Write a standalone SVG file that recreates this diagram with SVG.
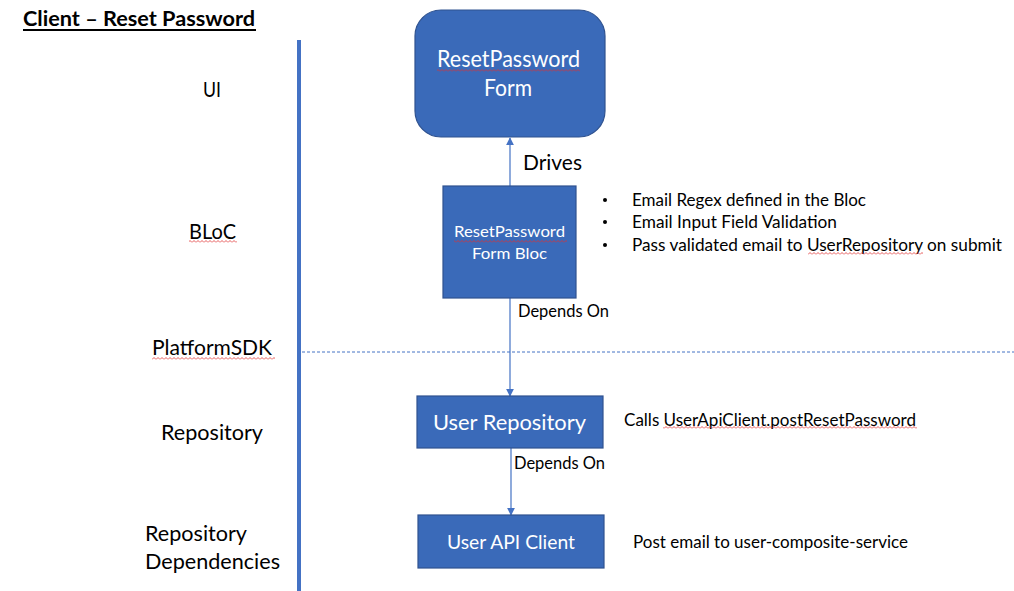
<svg xmlns="http://www.w3.org/2000/svg" width="1014" height="591" viewBox="0 0 1014 591">
<defs>
<style>
text{font-family:Lato,"Open Sans","Noto Sans",sans-serif;}
.lbl{fill:#000;font-size:21px;}
.note{fill:#000;font-size:16.5px;}
.wt{fill:#fff;text-anchor:middle;}
.box{fill:#3A6AB9;stroke:#2F528F;stroke-width:1.2;}
.conn{stroke:#4472C4;stroke-width:1.2;fill:none;}
</style>
<marker id="arr" viewBox="0 0 10 10" refX="9" refY="5" markerWidth="8" markerHeight="8" markerUnits="userSpaceOnUse" orient="auto">
<path d="M0,0 L10,5 L0,10 z" fill="#4472C4"/>
</marker>
<pattern id="sq" x="0" y="0" width="4" height="3" patternUnits="userSpaceOnUse">
<path d="M0,2.5 L2,0.5 L4,2.5" fill="none" stroke="#E03030" stroke-width="0.8"/>
</pattern>
</defs>
<rect width="1014" height="591" fill="#fff"/>

<g id="title">
<text x="23" y="26" textLength="232" lengthAdjust="spacingAndGlyphs" style="font-size:21px;font-weight:bold;fill:#000">Client – Reset Password</text>
<rect x="23" y="29" width="233" height="2" fill="#000"/>
</g>

<g id="layers">
<rect x="297" y="40" width="4" height="551" fill="#4472C4"/>
<line x1="302" y1="352" x2="1014" y2="352" stroke="#4472C4" stroke-width="1" stroke-dasharray="3,2"/>
<text class="lbl" x="212" y="97" text-anchor="middle" textLength="18" lengthAdjust="spacingAndGlyphs">UI</text>
<text class="lbl" x="212.5" y="239" text-anchor="middle" textLength="47" lengthAdjust="spacingAndGlyphs">BLoC</text>
<rect x="189" y="240" width="48" height="3" fill="url(#sq)"/>
<text class="lbl" x="212" y="355" text-anchor="middle" textLength="120" lengthAdjust="spacingAndGlyphs">PlatformSDK</text>
<rect x="152" y="357" width="123" height="3" fill="url(#sq)"/>
<text class="lbl" x="212" y="440" text-anchor="middle" textLength="102" lengthAdjust="spacingAndGlyphs">Repository</text>
<text class="lbl" x="145" y="541" textLength="102" lengthAdjust="spacingAndGlyphs">Repository</text>
<text class="lbl" x="145" y="569" textLength="135" lengthAdjust="spacingAndGlyphs">Dependencies</text>
</g>

<g id="connectors">
<line class="conn" x1="510" y1="186" x2="510" y2="138" marker-end="url(#arr)"/>
<line class="conn" x1="510" y1="298" x2="510" y2="396" marker-end="url(#arr)"/>
<line class="conn" x1="511" y1="448" x2="511" y2="515" marker-end="url(#arr)"/>
<text class="lbl" x="523" y="170" textLength="59" lengthAdjust="spacingAndGlyphs">Drives</text>
<text class="note" x="518" y="317" textLength="91" lengthAdjust="spacingAndGlyphs">Depends On</text>
<text class="note" x="514" y="469" textLength="91" lengthAdjust="spacingAndGlyphs">Depends On</text>
</g>

<g id="resetPasswordForm">
<rect class="box" x="415" y="10" width="190" height="127" rx="26" ry="26"/>
<text class="wt" x="508.5" y="67" style="font-size:23px" textLength="143" lengthAdjust="spacingAndGlyphs">ResetPassword</text>
<rect x="437" y="69" width="143" height="3" fill="url(#sq)"/>
<text class="wt" x="508" y="96" style="font-size:23px" textLength="48" lengthAdjust="spacingAndGlyphs">Form</text>
</g>

<g id="resetPasswordFormBloc">
<rect class="box" x="443" y="186" width="133" height="112"/>
<text class="wt" x="509.5" y="237" style="font-size:16px" textLength="111" lengthAdjust="spacingAndGlyphs">ResetPassword</text>
<rect x="454" y="240" width="113" height="3" fill="url(#sq)"/>
<text class="wt" x="509.5" y="259" style="font-size:16px" textLength="75" lengthAdjust="spacingAndGlyphs">Form Bloc</text>
</g>

<g id="blocNotes">
<circle cx="605" cy="200" r="2" fill="#000"/>
<circle cx="605" cy="222" r="2" fill="#000"/>
<circle cx="605" cy="245" r="2" fill="#000"/>
<text class="note" x="632" y="206" textLength="234" lengthAdjust="spacingAndGlyphs">Email Regex defined in the Bloc</text>
<text class="note" x="632" y="228" textLength="205" lengthAdjust="spacingAndGlyphs">Email Input Field Validation</text>
<text class="note" x="632" y="251" textLength="370" lengthAdjust="spacingAndGlyphs">Pass validated email to UserRepository on submit</text>
<rect x="808" y="252" width="115" height="3" fill="url(#sq)"/>
</g>

<g id="userRepository">
<rect class="box" x="417" y="396" width="186" height="52"/>
<text class="wt" x="509.5" y="430" style="font-size:22px" textLength="153" lengthAdjust="spacingAndGlyphs">User Repository</text>
</g>
<g id="userRepositoryNote">
<text class="note" x="624" y="426" textLength="292" lengthAdjust="spacingAndGlyphs">Calls UserApiClient.postResetPassword</text>
<rect x="663" y="426" width="254" height="3" fill="url(#sq)"/>
</g>

<g id="userApiClient">
<rect class="box" x="418" y="515" width="186" height="53"/>
<text class="wt" x="511" y="549" style="font-size:20px" textLength="128" lengthAdjust="spacingAndGlyphs">User API Client</text>
</g>
<g id="userApiClientNote">
<text class="note" x="633" y="548" textLength="275" lengthAdjust="spacingAndGlyphs">Post email to user-composite-service</text>
</g>
</svg>
